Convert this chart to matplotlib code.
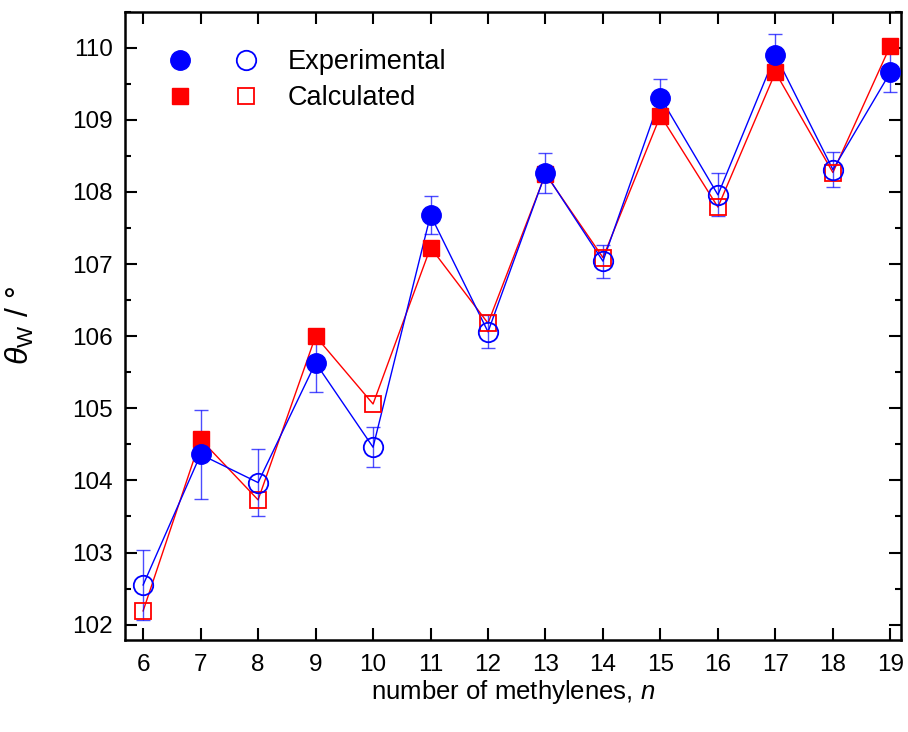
import matplotlib
matplotlib.use("Agg")
import matplotlib.pyplot as plt
from matplotlib.lines import Line2D
from matplotlib.legend_handler import HandlerTuple
import numpy as np

plt.rcParams['font.family'] = ['Liberation Sans', 'DejaVu Sans']
plt.rcParams['mathtext.fontset'] = 'custom'
plt.rcParams['mathtext.it'] = 'Liberation Sans:italic'
plt.rcParams['mathtext.rm'] = 'Liberation Sans'

# number of methylenes
n = np.array([6, 7, 8, 9, 10, 11, 12, 13, 14, 15, 16, 17, 18, 19])
# experimental contact angle and error
exp_theta = np.array([102.55, 104.36, 103.97, 105.63, 104.46, 107.68, 106.06,
                      108.26, 107.04, 109.31, 107.96, 109.90, 108.31, 109.66])
exp_err = np.array([0.49, 0.62, 0.46, 0.40, 0.28, 0.26, 0.23,
                    0.28, 0.23, 0.26, 0.30, 0.29, 0.24, 0.27])
# calculated contact angle
calc_theta = np.array([102.19, 104.57, 103.73, 106.00, 105.06, 107.23, 106.18,
                       108.25, 107.09, 109.06, 107.79, 109.66, 108.27, 110.03])

blue = '#0000ff'
red = '#ff0000'

fig = plt.figure(figsize=(9.08, 7.32), dpi=100)
ax = fig.add_axes([0.138, 0.126, 0.854, 0.858])

odd = n % 2 == 1
even = ~odd

# connecting lines
ax.plot(n, calc_theta, color=red, lw=1.0, zorder=2)
ax.plot(n, exp_theta, color=blue, lw=1.0, zorder=2)

# error bars
ax.errorbar(n, exp_theta, yerr=exp_err, fmt='none', ecolor=blue, alpha=0.7,
            elinewidth=1.0, capsize=4.7, capthick=1.0, zorder=3)

# calculated points
ax.plot(n[odd], calc_theta[odd], 's', ms=12, color=red, mec=red, zorder=4)
ax.plot(n[even], calc_theta[even], 's', ms=12, mfc='none', mec=red, mew=1.3, zorder=4)

# experimental points
ax.plot(n[odd], exp_theta[odd], 'o', ms=14, color=blue, mec=blue, zorder=5)
ax.plot(n[even], exp_theta[even], 'o', ms=14, mfc='none', mec=blue, mew=1.3, zorder=5)

ax.set_xlim(5.69, 19.18)
ax.set_ylim(101.79, 110.5)
ax.set_xticks(n)
ax.set_yticks(np.arange(102, 111, 1))
ax.set_yticks(np.arange(102, 110.6, 0.5), minor=True)

ax.tick_params(which='both', direction='in', top=True, right=True, labelsize=17.5, width=1.5)
ax.tick_params(which='major', length=8.5)
ax.tick_params(which='minor', length=4.3)
ax.tick_params(axis='x', pad=10)
ax.tick_params(axis='y', pad=9)
for s in ax.spines.values():
    s.set_linewidth(1.8)

ax.set_xlabel(r'number of methylenes, $n$', fontsize=18.5, labelpad=2)
ax.set_ylabel(r'$\theta_{\mathrm{W}}$ / °', fontsize=23, labelpad=26)

h_exp = (Line2D([], [], ls='none', marker='o', ms=14, color=blue),
         Line2D([], [], ls='none', marker='o', ms=14, mfc='none', mec=blue, mew=1.3))
h_calc = (Line2D([], [], ls='none', marker='s', ms=12, color=red),
          Line2D([], [], ls='none', marker='s', ms=12, mfc='none', mec=red, mew=1.3))
ax.legend([h_exp, h_calc], ['Experimental', 'Calculated'],
          handler_map={tuple: HandlerTuple(ndivide=None, pad=0.52)},
          loc='upper left', bbox_to_anchor=(0.037, 0.940), frameon=False,
          borderaxespad=0, borderpad=0,
          fontsize=19.5, handlelength=4.35, handletextpad=0.6, labelspacing=0.37)

fig.savefig('out.png', dpi=100)
